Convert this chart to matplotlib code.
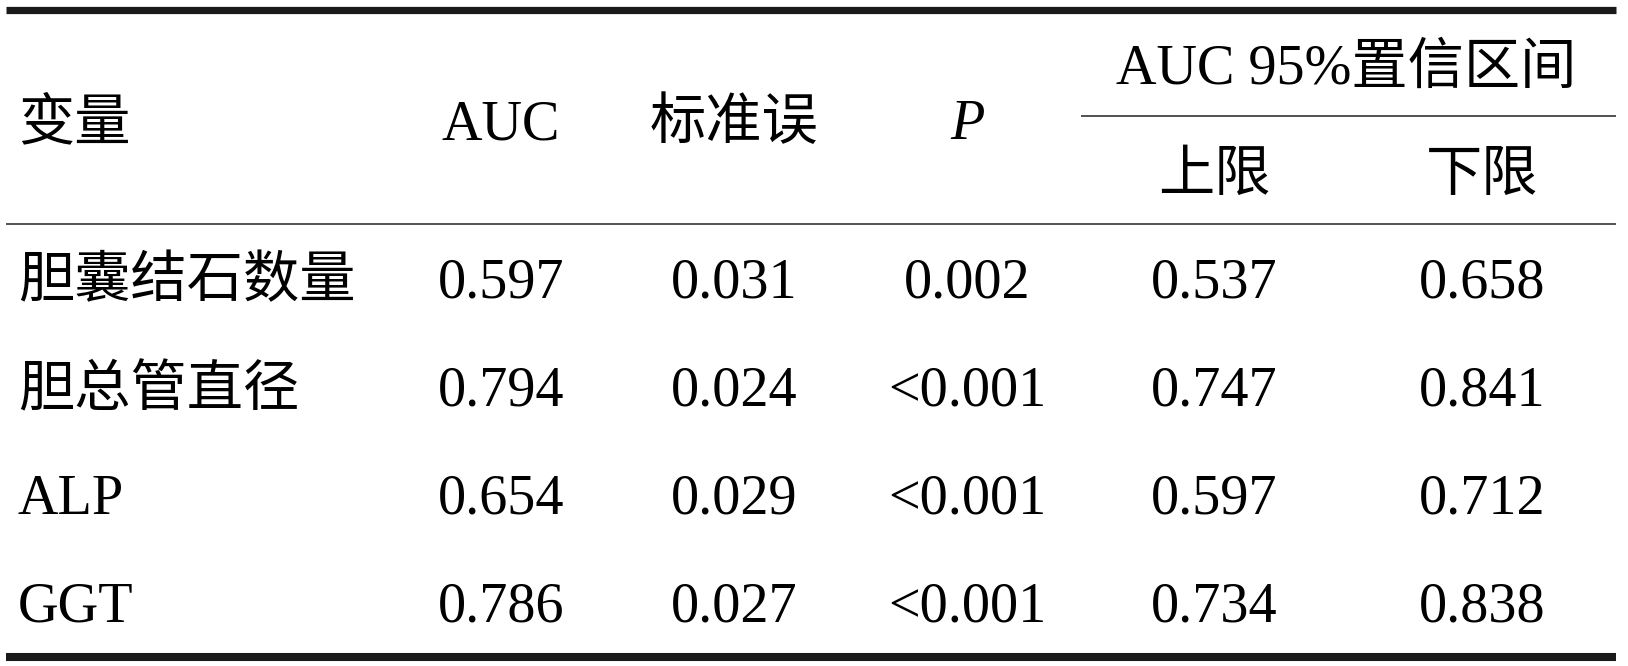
import matplotlib.pyplot as plt

plt.rcParams['font.family'] = ['Liberation Serif', 'Noto Sans CJK SC']

# 表格数据
variables = ['胆囊结石数量', '胆总管直径', 'ALP', 'GGT']
auc = [0.597, 0.794, 0.654, 0.786]
se = [0.031, 0.024, 0.029, 0.027]
p_values = ['0.002', '<0.001', '<0.001', '<0.001']
ci_upper = [0.537, 0.747, 0.597, 0.734]   # 上限 列（按原表）
ci_lower = [0.658, 0.841, 0.712, 0.838]   # 下限 列

headers = ['AUC', '标准误', 'P']
sub_headers = ['上限', '下限']
group_header = 'AUC 95%置信区间'

W, H = 1628, 666
fig = plt.figure(figsize=(W / 100, H / 100), dpi=100)
ax = fig.add_axes([0, 0, 1, 1])
ax.set_xlim(0, W)
ax.set_ylim(H, 0)
ax.axis('off')

fs = 40.5
col_x = [501, 734, 967, 1214, 1482]
row_y = [283, 392, 500, 608]
kw = dict(fontsize=fs, va='center', fontweight='light')

# 横线
ax.hlines(9.5, 6, 1616, color='#1a1a1a', lw=5.2)
ax.hlines(116, 1081, 1616, color='#222222', lw=1.1)
ax.hlines(224, 6, 1616, color='#222222', lw=1.1)
ax.hlines(657, 6, 1616, color='#1a1a1a', lw=5.8)

# 表头
ax.text(18, 125, '变量', ha='left', **kw)
for x, h in zip(col_x[:3], headers):
    style = 'italic' if h == 'P' else 'normal'
    ax.text(x, 125, h, ha='center', fontstyle=style, **kw)
ax.text(1346, 70, group_header, ha='center', **kw)
for x, h in zip(col_x[3:], sub_headers):
    ax.text(x, 177, h, ha='center', **kw)

# 数据行
for i, y in enumerate(row_y):
    ax.text(18, y, variables[i], ha='left', **kw)
    cells = [f'{auc[i]:.3f}', f'{se[i]:.3f}', p_values[i],
             f'{ci_upper[i]:.3f}', f'{ci_lower[i]:.3f}']
    for x, c in zip(col_x, cells):
        ax.text(x, y, c, ha='center', **kw)

fig.savefig('out.png', dpi=100, facecolor='white')
